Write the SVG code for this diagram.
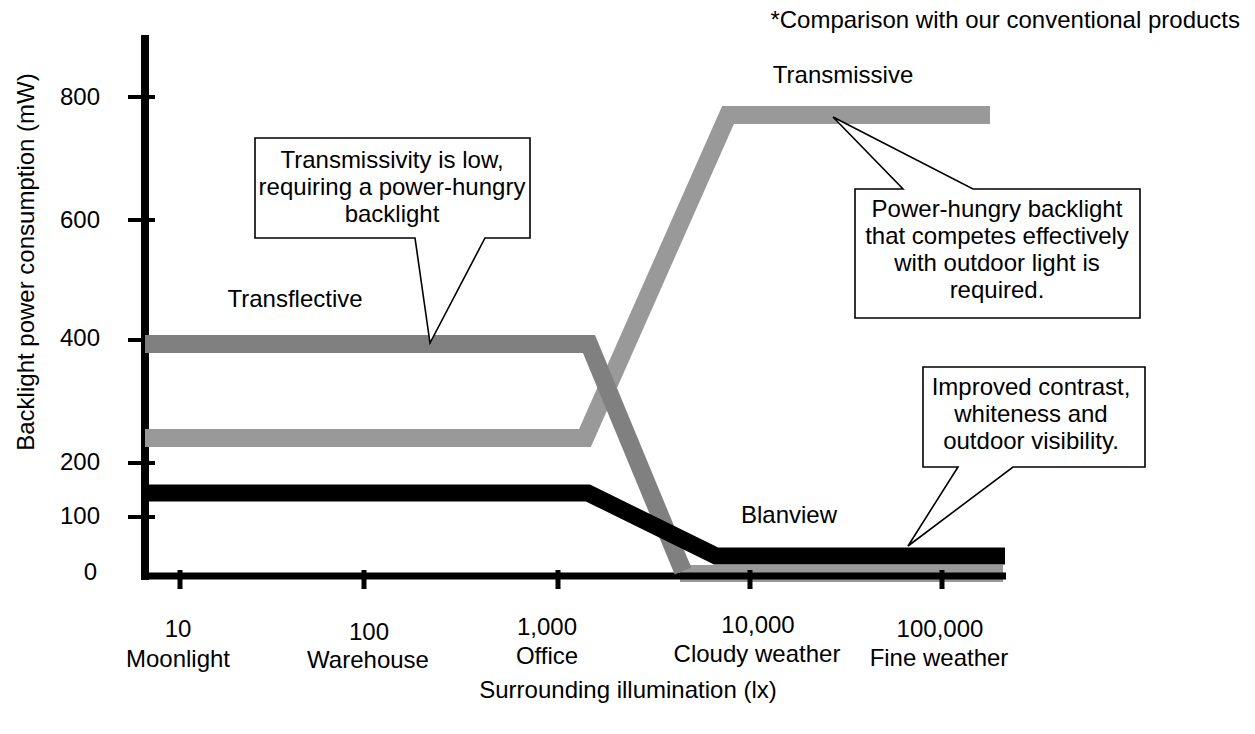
<svg xmlns="http://www.w3.org/2000/svg" width="1255" height="734" viewBox="0 0 1255 734">
<style>
text{font-family:"Liberation Sans",Arial,sans-serif;font-size:24px;fill:#000}
.m{text-anchor:middle}
.e{text-anchor:end}
.ax{stroke:#000;fill:none}
.call{fill:#fff;stroke:#000;stroke-width:1.6;stroke-linejoin:miter}
.ln{fill:none;stroke-linejoin:miter;stroke-miterlimit:10}
</style>
<rect width="1255" height="734" fill="#fff"/>
<g id="series">
  <path class="ln" d="M680,573.5 H1003" stroke="#999999" stroke-width="17"/>
</g>
<g id="axes">
  <path class="ax" d="M145,35 V580" stroke-width="8"/>
  <path class="ax" d="M141,576 H1006" stroke-width="7"/>
  <g stroke="#000" stroke-width="4">
    <path d="M128,97 H155 M128,220 H155 M128,340 H155 M128,463 H155 M128,517 H155"/>
  </g>
  <g stroke="#000" stroke-width="5">
    <path d="M180,570 V589 M364,570 V589 M558,570 V589 M750,570 V589 M942,570 V589"/>
  </g>
</g>
<g id="connectors">
  <path id="transmissive-line" class="ln" d="M145,438 H585 L728,115 H990" stroke="#999999" stroke-width="18"/>
  <path id="transflective-line" class="ln" d="M145,344 H589 L683,571" stroke="#808080" stroke-width="18"/>
  <path id="blanview-line" class="ln" d="M149,493 H588 L716,556 H1005" stroke="#000" stroke-width="17"/>
</g>
<g id="y-labels">
  <text class="e" x="100" y="105">800</text>
  <text class="e" x="100" y="228">600</text>
  <text class="e" x="100" y="346">400</text>
  <text class="e" x="100" y="470">200</text>
  <text class="e" x="100" y="524">100</text>
  <text class="e" x="97" y="580">0</text>
  <text class="m" transform="translate(34,262) rotate(-90)">Backlight power consumption (mW)</text>
</g>
<g id="x-labels">
  <text class="m" x="178" y="637">10</text>
  <text class="m" x="178" y="667">Moonlight</text>
  <text class="m" x="369" y="640">100</text>
  <text class="m" x="368" y="668">Warehouse</text>
  <text class="m" x="547" y="635">1,000</text>
  <text class="m" x="547" y="664">Office</text>
  <text class="m" x="758" y="633">10,000</text>
  <text class="m" x="757" y="662">Cloudy weather</text>
  <text class="m" x="940" y="637">100,000</text>
  <text class="m" x="939" y="666">Fine weather</text>
  <text class="m" x="628" y="698">Surrounding illumination (lx)</text>
</g>
<text id="note" class="e" x="1240" y="28">*Comparison with our conventional products</text>
<g id="label-transmissive"><text class="m" x="843" y="83">Transmissive</text></g>
<g id="label-transflective"><text class="m" x="295" y="307">Transflective</text></g>
<g id="label-blanview"><text class="m" x="789" y="523">Blanview</text></g>
<g id="callout-transflective">
  <path class="call" d="M255,138 H530 V238 H485 L430,343 L415,238 H255 Z"/>
  <text class="m" x="392" y="168">Transmissivity is low,</text>
  <text class="m" x="392" y="195">requiring a power-hungry</text>
  <text class="m" x="392" y="222">backlight</text>
</g>
<g id="callout-transmissive">
  <path class="call" d="M855,189 H903 L833,117 L973,189 H1140 V318 H855 Z"/>
  <text class="m" x="997" y="217">Power-hungry backlight</text>
  <text class="m" x="997" y="244">that competes effectively</text>
  <text class="m" x="997" y="271">with outdoor light is</text>
  <text class="m" x="997" y="298">required.</text>
</g>
<g id="callout-blanview">
  <path class="call" d="M923,367 H1145 V467 H1013 L908,546 L958,467 H923 Z"/>
  <text class="m" x="1031" y="395">Improved contrast,</text>
  <text class="m" x="1031" y="422">whiteness and</text>
  <text class="m" x="1031" y="449">outdoor visibility.</text>
</g>
</svg>
